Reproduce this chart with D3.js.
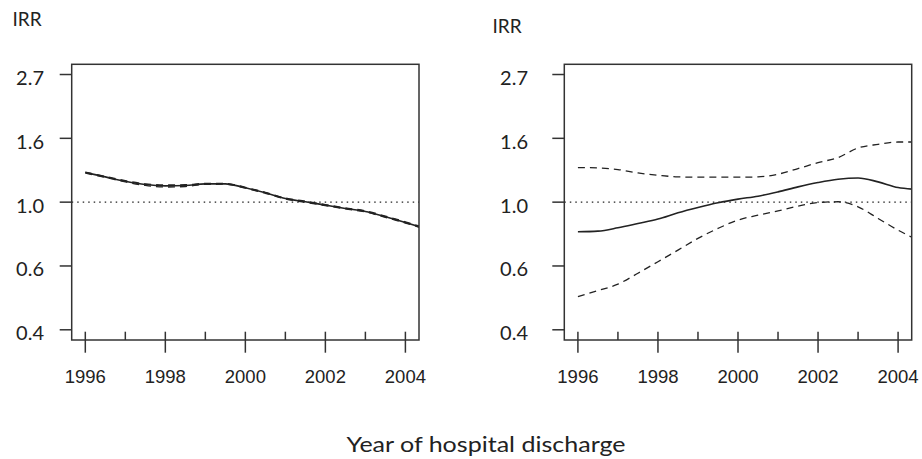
<!DOCTYPE html>
<html>
<head>
<meta charset="utf-8">
<script src="https://cdn.jsdelivr.net/npm/d3@7"></script>
<style>
body { margin: 0; background: #fff; }
svg { display: block; }
</style>
</head>
<body>
<div class="featured"></div>
<script>
// years the curves are sampled at
var years = [1996, 1996.5, 1997, 1997.5, 1998, 1998.5, 1999, 1999.5, 2000,
             2000.5, 2001, 2001.5, 2002, 2002.5, 2003, 2003.5, 2004, 2004.35];

// left panel: estimate and (very narrow) band
var leftIRR   = [1.261, 1.219, 1.178, 1.148, 1.136, 1.139, 1.154, 1.154, 1.119,
                 1.076, 1.029, 1.003, 0.977, 0.952, 0.930, 0.892, 0.853, 0.825];
var leftLower = [1.255, 1.214, 1.172, 1.140, 1.126, 1.130, 1.150, 1.151, 1.116,
                 1.072, 1.025, 0.999, 0.973, 0.948, 0.926, 0.888, 0.849, 0.821];
var leftUpper = [1.266, 1.224, 1.183, 1.154, 1.144, 1.146, 1.159, 1.158, 1.123,
                 1.080, 1.033, 1.007, 0.981, 0.956, 0.934, 0.896, 0.857, 0.829];

// right panel: estimate and confidence band
var rightIRR   = [0.793, 0.797, 0.818, 0.846, 0.876, 0.920, 0.959, 0.995, 1.024,
                  1.048, 1.084, 1.127, 1.166, 1.197, 1.209, 1.172, 1.121, 1.107];
var rightLower = [0.477, 0.500, 0.526, 0.573, 0.627, 0.687, 0.753, 0.814, 0.869,
                  0.903, 0.934, 0.969, 0.997, 1.003, 0.964, 0.880, 0.803, 0.759];
var rightUpper = [1.311, 1.308, 1.291, 1.257, 1.235, 1.219, 1.216, 1.216, 1.216,
                  1.219, 1.245, 1.301, 1.363, 1.418, 1.529, 1.573, 1.602, 1.602];

var yTicks = [Math.exp(-1), Math.exp(-0.5), 1, Math.exp(0.5), Math.exp(1)];
var yTickLabels = ["0.4", "0.6", "1.0", "1.6", "2.7"];
var xMajor = [1996, 1998, 2000, 2002, 2004];
var xMinor = [1997, 1999, 2001, 2003];

var W = 922, H = 459;
var plotTop = 64.3, plotBottom = 340;
var ink = "#222";

var svg = d3.select(".featured").append("svg")
	.attr("width", W).attr("height", H);

var y = d3.scaleLog()
	.domain([Math.exp(-1.08), Math.exp(1.08)])
	.range([plotBottom, plotTop]);

function drawPanel(opt)
{
	var x = d3.scaleLinear()
		.domain([1995.66, 2004.34])
		.range([opt.left, opt.right]);

	var g = svg.append("g");

	// clip curves to the box
	var clipId = "clip" + opt.id;
	g.append("clipPath").attr("id", clipId)
		.append("rect")
		.attr("x", opt.left).attr("y", plotTop)
		.attr("width", opt.right - opt.left).attr("height", plotBottom - plotTop);

	// reference line at IRR = 1
	g.append("line")
		.attr("x1", opt.left).attr("x2", opt.right)
		.attr("y1", y(1)).attr("y2", y(1))
		.attr("stroke", ink).attr("stroke-width", 1.3)
		.attr("stroke-dasharray", "1.5,4");

	var line = d3.line()
		.x(function(d, i) { return x(years[i]); })
		.y(function(d) { return y(d); })
		.curve(d3.curveMonotoneX);

	var curves = g.append("g").attr("clip-path", "url(#" + clipId + ")");
	curves.append("path").attr("d", line(opt.lower))
		.attr("fill", "none").attr("stroke", ink).attr("stroke-width", 1.3)
		.attr("stroke-dasharray", "7,5");
	curves.append("path").attr("d", line(opt.upper))
		.attr("fill", "none").attr("stroke", ink).attr("stroke-width", 1.3)
		.attr("stroke-dasharray", "7,5");
	curves.append("path").attr("d", line(opt.est))
		.attr("fill", "none").attr("stroke", ink).attr("stroke-width", 1.6);

	// box
	g.append("rect")
		.attr("x", opt.left).attr("y", plotTop)
		.attr("width", opt.right - opt.left).attr("height", plotBottom - plotTop)
		.attr("fill", "none").attr("stroke", "#333").attr("stroke-width", 1.5);

	// y axis ticks + labels
	g.selectAll(".yt").data(yTicks).enter().append("line")
		.attr("x1", opt.left - 12).attr("x2", opt.left)
		.attr("y1", function(d) { return y(d); })
		.attr("y2", function(d) { return y(d); })
		.attr("stroke", "#333").attr("stroke-width", 1.5);
	g.selectAll(".yl").data(yTicks).enter().append("text")
		.attr("x", opt.labelRight)
		.attr("y", function(d) { return y(d) + 10.5; })
		.attr("text-anchor", "end")
		.attr("font-family", "Lato, 'Open Sans', sans-serif")
		.attr("font-size", 20)
		.attr("fill", ink)
		.text(function(d, i) { return yTickLabels[i]; });

	// x axis ticks
	g.selectAll(".xt").data(xMajor).enter().append("line")
		.attr("x1", function(d) { return x(d); })
		.attr("x2", function(d) { return x(d); })
		.attr("y1", 331.7).attr("y2", 352.7)
		.attr("stroke", "#333").attr("stroke-width", 1.5);
	g.selectAll(".xm").data(xMinor).enter().append("line")
		.attr("x1", function(d) { return x(d); })
		.attr("x2", function(d) { return x(d); })
		.attr("y1", 331.7).attr("y2", plotBottom)
		.attr("stroke", "#333").attr("stroke-width", 1.5);
	g.selectAll(".xl").data(xMajor).enter().append("text")
		.attr("x", function(d) { return x(d); })
		.attr("y", 383)
		.attr("text-anchor", "middle")
		.attr("font-family", "'Liberation Sans', Arial, sans-serif")
		.attr("font-size", 18.5)
		.attr("fill", ink)
		.text(function(d) { return d; });

	// "IRR" label
	g.append("text")
		.attr("x", opt.irrX).attr("y", opt.irrY)
		.attr("font-family", "Lato, 'Open Sans', sans-serif")
		.attr("font-size", 19)
		.attr("fill", ink)
		.text("IRR");
}

drawPanel({ id: 1, left: 71.7, right: 419, labelRight: 44, irrX: 12.5, irrY: 26,
	est: leftIRR, lower: leftLower, upper: leftUpper });
drawPanel({ id: 2, left: 564.3, right: 911.7, labelRight: 528, irrX: 492.5, irrY: 33,
	est: rightIRR, lower: rightLower, upper: rightUpper });

// shared x title
svg.append("text")
	.attr("x", 486).attr("y", 451.5)
	.attr("text-anchor", "middle")
	.attr("font-family", "Lato, 'Open Sans', sans-serif")
	.attr("font-size", 22)
	.attr("textLength", 279)
	.attr("lengthAdjust", "spacingAndGlyphs")
	.attr("fill", ink)
	.text("Year of hospital discharge");
</script>
</body>
</html>
